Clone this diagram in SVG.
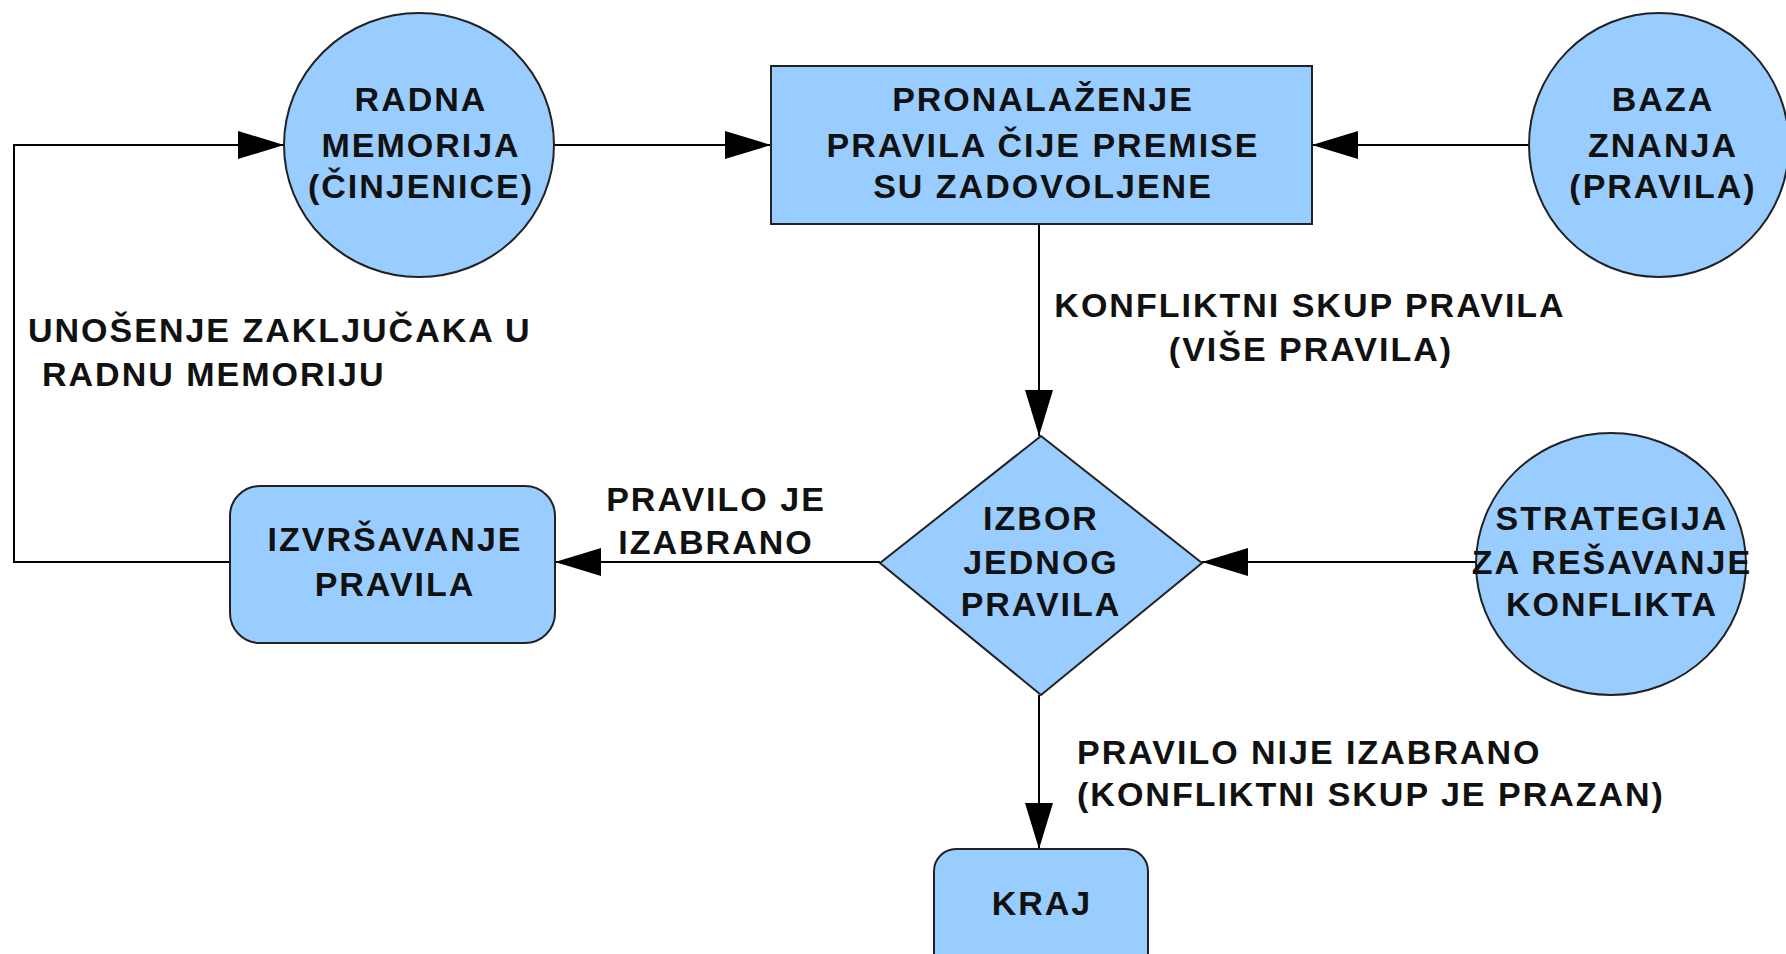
<svg xmlns="http://www.w3.org/2000/svg" width="1786" height="954" viewBox="0 0 1786 954">
<style>
.n{fill:#99ccff;stroke:#222;stroke-width:2}
.t{font-family:"Liberation Sans",Arial,sans-serif;font-weight:bold;font-size:34px;letter-spacing:2px;fill:#111}
.c{text-anchor:middle}
.e{fill:none;stroke:#000;stroke-width:2}
</style>
<defs>
<marker id="a" viewBox="0 0 46 28" refX="46" refY="14" markerWidth="46" markerHeight="28" markerUnits="userSpaceOnUse" orient="auto">
<path d="M0,0 L46,14 L0,28 Z" fill="#000"/>
</marker>
</defs>
<rect width="1786" height="954" fill="#fff"/>
<g id="edges">
<path class="e" d="M230,562 H14 V145 H284" marker-end="url(#a)"/>
<path class="e" d="M554,145 H771" marker-end="url(#a)"/>
<path class="e" d="M1529,145 H1312" marker-end="url(#a)"/>
<path class="e" d="M1039,224 V436" marker-end="url(#a)"/>
<path class="e" d="M1476,562 H1202" marker-end="url(#a)"/>
<path class="e" d="M880,562 H555" marker-end="url(#a)"/>
<path class="e" d="M1039,695 V849" marker-end="url(#a)"/>
</g>
<g id="radna">
<ellipse class="n" cx="419" cy="145" rx="135" ry="132"/>
<text class="t c" x="421" y="111">RADNA</text>
<text class="t c" x="421" y="157">MEMORIJA</text>
<text class="t c" x="421" y="198">(ČINJENICE)</text>
</g>
<g id="pronalazenje">
<rect class="n" x="771" y="66" width="541" height="158"/>
<text class="t c" x="1043" y="111">PRONALAŽENJE</text>
<text class="t c" x="1043" y="157">PRAVILA ČIJE PREMISE</text>
<text class="t c" x="1043" y="198">SU ZADOVOLJENE</text>
</g>
<g id="baza">
<ellipse class="n" cx="1659" cy="145" rx="130" ry="132"/>
<text class="t c" x="1663" y="111">BAZA</text>
<text class="t c" x="1663" y="157">ZNANJA</text>
<text class="t c" x="1663" y="198">(PRAVILA)</text>
</g>
<g id="izbor">
<path class="n" d="M1041,436 L1202,563 L1041,695 L880,563 Z"/>
<text class="t c" x="1041" y="530">IZBOR</text>
<text class="t c" x="1041" y="574">JEDNOG</text>
<text class="t c" x="1041" y="616">PRAVILA</text>
</g>
<g id="strategija">
<ellipse class="n" cx="1611" cy="564" rx="135" ry="131"/>
<text class="t c" x="1612" y="530">STRATEGIJA</text>
<text class="t c" x="1612" y="574">ZA REŠAVANJE</text>
<text class="t c" x="1612" y="616">KONFLIKTA</text>
</g>
<g id="izvrsavanje">
<rect class="n" x="230" y="486" width="325" height="157" rx="30"/>
<text class="t c" x="395" y="551">IZVRŠAVANJE</text>
<text class="t c" x="395" y="596">PRAVILA</text>
</g>
<g id="kraj">
<rect class="n" x="934" y="849" width="214" height="130" rx="22"/>
<text class="t c" x="1042" y="915">KRAJ</text>
</g>
<g id="labels">
<text class="t" x="28" y="342">UNOŠENJE ZAKLJUČAKA U</text>
<text class="t" x="42" y="386">RADNU MEMORIJU</text>
<text class="t c" x="1310" y="317">KONFLIKTNI SKUP PRAVILA</text>
<text class="t c" x="1311" y="361">(VIŠE PRAVILA)</text>
<text class="t c" x="716" y="511">PRAVILO JE</text>
<text class="t c" x="716" y="554">IZABRANO</text>
<text class="t" x="1077" y="764">PRAVILO NIJE IZABRANO</text>
<text class="t" x="1077" y="806">(KONFLIKTNI SKUP JE PRAZAN)</text>
</g>
</svg>
